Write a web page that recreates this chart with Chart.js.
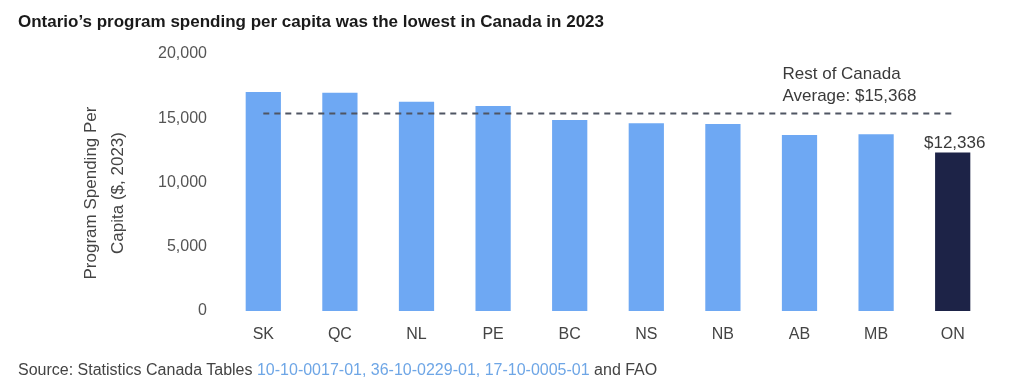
<!DOCTYPE html>
<html>
<head>
<meta charset="utf-8">
<script src="https://cdn.jsdelivr.net/npm/chart.js@4.4.0/dist/chart.umd.min.js"></script>
<style>
  html, body { margin: 0; padding: 0; background: #fff; width: 1034px; height: 387px; overflow: hidden;
    font-family: "Liberation Sans", Arial, sans-serif; }
  #wrap { position: relative; width: 1034px; height: 387px; }
  #chart { position: absolute; left: 0; top: 0; }
  #title { position: absolute; left: 18px; top: 12px; font-size: 17px; font-weight: bold; color: #1a1a1a;
    white-space: nowrap; line-height: 20px; }
  #source { position: absolute; left: 18px; top: 361px; font-size: 16px; color: #444; white-space: nowrap;
    line-height: 17px; }
  #source .ref { color: #6ea6e6; }
</style>
</head>
<body>
<div id="wrap">
  <canvas id="chart" width="1034" height="387"></canvas>
  <div id="title">Ontario’s program spending per capita was the lowest in Canada in 2023</div>
  <div id="source">Source: Statistics Canada Tables <span class="ref">10-10-0017-01, 36-10-0229-01, 17-10-0005-01</span> and FAO</div>
</div>
<script>
// Program spending per capita by province, 2023 ($)
const provinces = ['SK', 'QC', 'NL', 'PE', 'BC', 'NS', 'NB', 'AB', 'MB', 'ON'];
const spendingPerCapita = [17050, 16980, 16290, 15950, 14860, 14610, 14550, 13700, 13750, 12336];
const restOfCanadaAverage = 15368;
const yTickValues = [0, 5000, 10000, 15000, 20000];
const yAxisTitle = ['Program Spending Per', 'Capita ($, 2023)'];
const highlight = 'ON';

const FONT = '"Liberation Sans", Arial, sans-serif';
const fmt = v => v.toLocaleString('en-US');

// Text labels: the rest-of-Canada average note, the Ontario value, and the y-axis title
const labelsPlugin = {
  id: 'labels',
  afterDatasetsDraw(chart) {
    const { ctx, scales: { x, y } } = chart;
    ctx.save();
    ctx.fillStyle = '#3a3a3a';
    ctx.font = '17px ' + FONT;
    ctx.textBaseline = 'middle';

    // Average note, above the dashed line
    const avgY = y.getPixelForValue(restOfCanadaAverage);
    const noteX = x.getPixelForValue(7) - 17;
    ctx.textAlign = 'left';
    ctx.fillText('Rest of Canada', noteX, avgY - 39);
    ctx.fillText('Average: $' + fmt(restOfCanadaAverage), noteX, avgY - 17);

    // Value above the highlighted bar
    const idx = provinces.indexOf(highlight);
    const bar = chart.getDatasetMeta(1).data[idx];
    ctx.textAlign = 'center';
    ctx.fillText('$' + fmt(spendingPerCapita[idx]), bar.x + 2, bar.y - 9);

    // Rotated two-line y-axis title
    ctx.fillStyle = '#444';
    ctx.translate(91, 193);
    ctx.rotate(-Math.PI / 2);
    ctx.fillText(yAxisTitle[0], 0, 0);
    ctx.fillText(yAxisTitle[1], 0, 27);
    ctx.restore();
  }
};

new Chart(document.getElementById('chart'), {
  data: {
    labels: provinces,
    datasets: [
      {
        type: 'line',
        data: provinces.map(() => restOfCanadaAverage),
        borderColor: '#4f5563',
        borderWidth: 2,
        borderDash: [6, 5],
        pointRadius: 0,
        fill: false,
        order: 0
      },
      {
        type: 'bar',
        data: spendingPerCapita,
        backgroundColor: provinces.map(p => p === highlight ? '#1d2347' : '#6ea8f3'),
        barPercentage: 0.46,
        categoryPercentage: 1,
        order: 1
      }
    ]
  },
  options: {
    responsive: false,
    animation: false,
    layout: { padding: { left: 0, right: 43, top: 54, bottom: 0 } },
    plugins: { legend: { display: false }, tooltip: { enabled: false } },
    scales: {
      x: {
        grid: { display: false, drawTicks: false },
        border: { display: false },
        ticks: { color: '#444', font: { size: 16, family: FONT }, padding: 14 },
        afterFit(s) { s.height = 76; }
      },
      y: {
        min: 0,
        max: 20000,
        afterBuildTicks(s) { s.ticks = yTickValues.map(v => ({ value: v })); },
        grid: { display: false, drawTicks: false },
        border: { display: false },
        ticks: { color: '#555', font: { size: 16, family: FONT }, padding: 18, callback: v => fmt(v) },
        afterFit(s) { s.width = 225; }
      }
    }
  },
  plugins: [labelsPlugin]
});
</script>
</body>
</html>
